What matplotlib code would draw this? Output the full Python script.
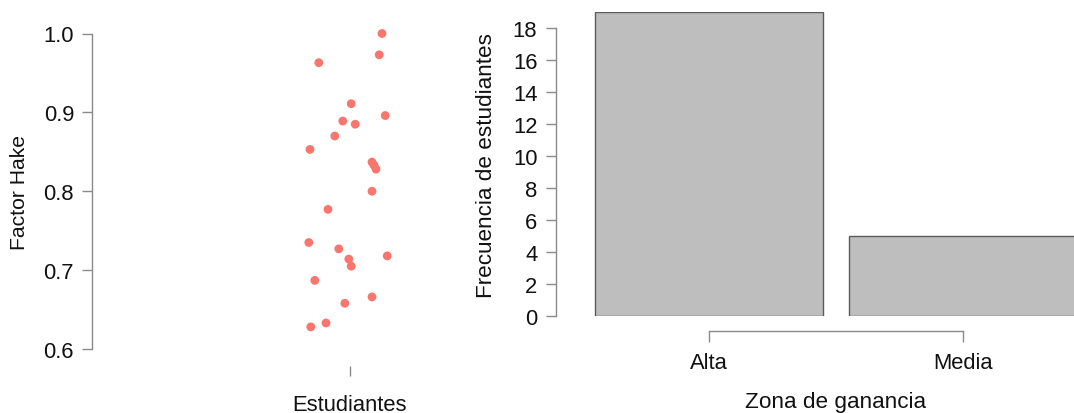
import numpy as np
import matplotlib.pyplot as plt

plt.rcParams['font.family'] = ['Liberation Sans', 'DejaVu Sans']

# Factor Hake por estudiante (jitter horizontal)
hake = [1.000, 0.973, 0.963, 0.911, 0.896, 0.889, 0.885, 0.870, 0.853, 0.837,
        0.833, 0.828, 0.800, 0.777, 0.735, 0.727, 0.714, 0.718, 0.705, 0.687,
        0.666, 0.658, 0.633, 0.628]
jitter = [0.080, 0.073, -0.078, 0.003, 0.088, -0.018, 0.013, -0.038, -0.100, 0.055,
          0.060, 0.065, 0.055, -0.055, -0.103, -0.028, -0.003, 0.093, 0.003, -0.088,
          0.055, -0.013, -0.060, -0.098]

zonas = ['Alta', 'Media']
frecuencia = [19, 5]

W, H = 1074, 414
fig = plt.figure(figsize=(W / 100, H / 100), dpi=100)

axcol = '#8a8a8a'
txtcol = '#111111'
px = 72 / 100  # pixels -> points
tsize = 15.8

# ---- panel izquierdo: stripchart ----
ax1 = fig.add_axes([92 / W, (H - 350) / H, (450 - 92) / W, (350 - 34.5) / H])
x = 1 + np.array(jitter)
ax1.scatter(x, hake, s=40, color='#F8766D', edgecolors='none', clip_on=False, zorder=3)
ax1.set_ylim(0.6, 1.0)
ax1.set_xlim(0.355, 1.25)
ax1.set_yticks([0.6, 0.7, 0.8, 0.9, 1.0])
ax1.set_yticklabels(['0.6', '0.7', '0.8', '0.9', '1.0'])
ax1.set_xticks([1])
ax1.set_xticklabels(['Estudiantes'])
for s in ['top', 'right']:
    ax1.spines[s].set_visible(False)
ax1.spines['bottom'].set_position(('outward', 17 * px))
ax1.spines['bottom'].set_visible(False)
ax1.spines['left'].set_color(axcol)
ax1.spines['left'].set_linewidth(1.0)
ax1.tick_params(axis='y', length=10 * px, width=1.0, color=axcol, pad=8 * px,
                labelsize=tsize, labelcolor=txtcol)
ax1.tick_params(axis='x', length=10 * px, width=1.0, color=axcol, pad=18 * px,
                labelsize=tsize, labelcolor=txtcol)
fig.text(20 / W, 1 - 192 / H, 'Factor Hake', rotation=90, ha='center', va='center',
         fontsize=15.2, color=txtcol)

# ---- panel derecho: barras ----
ax2 = fig.add_axes([556 / W, (H - 317) / H, (W - 556) / W, (317 - 13) / H])
pos = np.arange(len(zonas))
ax2.bar(pos, frecuencia, width=0.9, color='#bebebe', edgecolor='#5a5a5a', linewidth=1.0)
ax2.set_xlim(-0.6016, 1.437)
ax2.set_ylim(0, 19)
ax2.set_yticks(range(0, 19, 2))
ax2.set_xticks(pos)
ax2.set_xticklabels(zonas)
for s in ['top', 'right']:
    ax2.spines[s].set_visible(False)
ax2.spines['left'].set_bounds(0, 18)
ax2.spines['bottom'].set_bounds(0, 1)
ax2.spines['bottom'].set_position(('outward', 15 * px))
for s in ['left', 'bottom']:
    ax2.spines[s].set_color(axcol)
    ax2.spines[s].set_linewidth(1.0)
ax2.tick_params(axis='y', length=10.5 * px, width=1.0, color=axcol, pad=8 * px,
                labelsize=tsize, labelcolor=txtcol)
ax2.tick_params(axis='x', length=11 * px, width=1.0, color=axcol, pad=10 * px,
                labelsize=tsize, labelcolor=txtcol)
fig.text(486 / W, 1 - 165 / H, 'Frecuencia de estudiantes', rotation=90, ha='center',
         va='center', fontsize=16.2, color=txtcol)
fig.text(836 / W, 1 - 403 / H, 'Zona de ganancia', ha='center', va='center',
         fontsize=16.2, color=txtcol)

fig.savefig('out.png', dpi=100)
